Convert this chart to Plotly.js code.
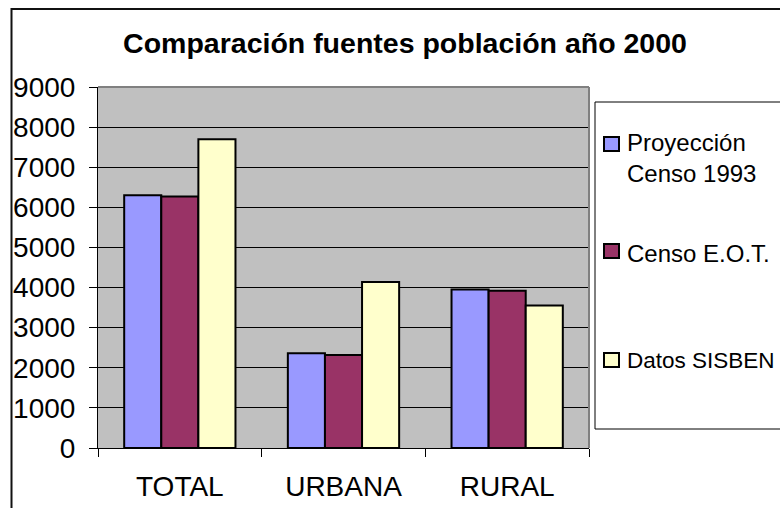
<!DOCTYPE html>
<html>
<head>
<meta charset="utf-8">
<script src="https://cdn.plot.ly/plotly-3.0.1.min.js"></script>
<style>html,body{margin:0;padding:0;background:#fff;}#chart{width:780px;height:508px;}</style>
</head>
<body>
<div id="chart"></div>
<script>
const categories = ["TOTAL", "URBANA", "RURAL"];
const seriesNames = ["Proyección<br>Censo 1993", "Censo E.O.T.", "Datos SISBEN"];
const proyeccionCenso1993 = [6300, 2360, 3950];
const censoEOT = [6270, 2320, 3920];
const datosSisben = [7700, 4140, 3550];
const yTickValues = [0, 1000, 2000, 3000, 4000, 5000, 6000, 7000, 8000, 9000];
const colors = ["#9999FF", "#993366", "#FFFFCC"];
const FONT = "Liberation Sans, Arial, sans-serif";

const W = 780, H = 508;
const L = 98, R = 589, T = 87, B = 448;
const px = v => (v - L) / (R - L);
const py = v => (B - v) / (B - T);

const allSeries = [proyeccionCenso1993, censoEOT, datosSisben];
const traces = allSeries.map((vals, i) => ({
  type: "bar",
  x: categories,
  y: vals,
  name: seriesNames[i],
  marker: { color: colors[i], line: { color: "#000000", width: 2 } },
  showlegend: false,
  hoverinfo: "x+y"
}));

const shapes = [
  // outer chart frame (clipped at right/bottom)
  { type: "rect", xref: "paper", yref: "paper", x0: px(11.5), x1: px(820), y0: py(540), y1: py(9),
    line: { color: "#111111", width: 2 }, fillcolor: "rgba(0,0,0,0)", layer: "below" },
  // plot area top and right borders (gray)
  { type: "line", xref: "paper", yref: "paper", x0: 0, x1: 1, y0: 1, y1: 1, line: { color: "#808080", width: 2 } },
  { type: "line", xref: "paper", yref: "paper", x0: 1, x1: 1, y0: 0, y1: 1, line: { color: "#808080", width: 2 } },
  // legend box
  { type: "rect", xref: "paper", yref: "paper", x0: px(595), x1: px(820), y0: py(429), y1: py(102),
    line: { color: "#000000", width: 1 }, fillcolor: "#FFFFFF" }
];
const legendSquareY = [[137, 151], [244, 258], [353, 367]];
legendSquareY.forEach((yy, i) => {
  shapes.push({ type: "rect", xref: "paper", yref: "paper", x0: px(604), x1: px(619), y0: py(yy[1]), y1: py(yy[0]),
    line: { color: "#000000", width: 2 }, fillcolor: colors[i] });
});
const legendTextY = [158, 253, 360.5];
const legendFontSizes = [24, 24, 22.5];
const annotations = seriesNames.map((n, i) => ({
  xref: "paper", yref: "paper", x: px(625), y: py(legendTextY[i]), xanchor: "left", yanchor: "middle",
  text: n, showarrow: false, align: "left", font: { family: FONT, size: legendFontSizes[i], color: "#000000" }
}));

const layout = {
  width: W, height: H,
  margin: { l: L, r: W - R, t: T, b: H - B, pad: 0 },
  paper_bgcolor: "#FFFFFF",
  plot_bgcolor: "#C0C0C0",
  font: { family: FONT, color: "#000000" },
  title: {
    text: "<b>Comparación fuentes población año 2000</b>",
    font: { family: FONT, size: 28.5, color: "#000000" },
    x: 405 / W, xref: "container", xanchor: "center",
    y: 1 - 43 / H, yref: "container", yanchor: "middle"
  },
  barmode: "group",
  bargap: 0.32,
  bargroupgap: 0,
  xaxis: {
    type: "category",
    showline: true, linecolor: "#000000", linewidth: 1,
    ticks: "outside", tickson: "boundaries", ticklen: 8, tickcolor: "#000000", tickwidth: 1,
    tickfont: { family: FONT, size: 28, color: "#000000" },
    ticklabelstandoff: 13,
    showgrid: false, zeroline: false, fixedrange: true
  },
  yaxis: {
    range: [0, 9000], tickvals: yTickValues, ticktext: yTickValues.map(String),
    showline: true, linecolor: "#000000", linewidth: 1,
    ticks: "outside", ticklen: 8, tickcolor: "#000000", tickwidth: 1,
    tickfont: { family: FONT, size: 28, color: "#000000" },
    ticklabelstandoff: 8,
    showgrid: true, gridcolor: "#000000", gridwidth: 1,
    zeroline: false, fixedrange: true
  },
  shapes: shapes,
  annotations: annotations
};

Plotly.newPlot("chart", traces, layout, { displayModeBar: false, staticPlot: true });
</script>
</body>
</html>
